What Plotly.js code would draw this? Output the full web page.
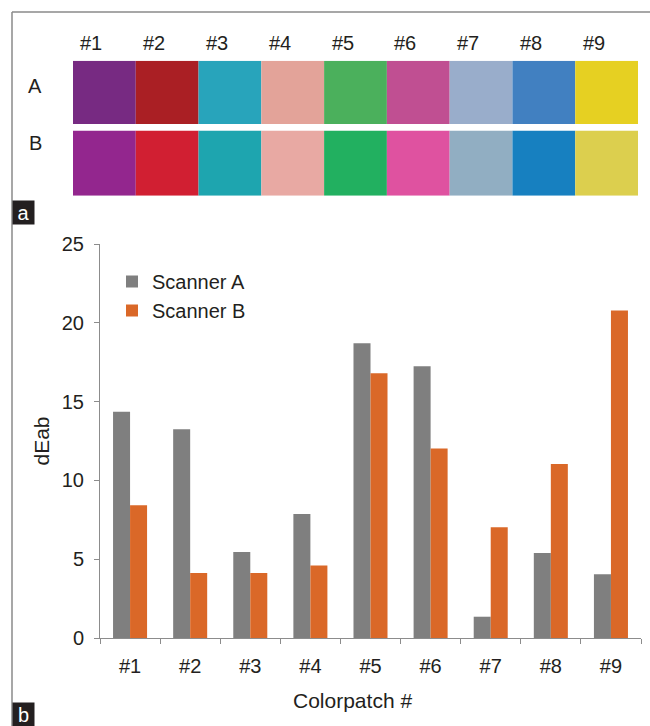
<!DOCTYPE html>
<html>
<head>
<meta charset="utf-8">
<script src="https://cdn.plot.ly/plotly-3.0.1.min.js"></script>
<style>html,body{margin:0;padding:0;background:#fff;}#chart{width:650px;height:726px;}</style>
</head>
<body>
<div id="chart"></div>
<script>
// ---- data ----
var patchLabels = ['#1','#2','#3','#4','#5','#6','#7','#8','#9'];
var patchIndex = [1,2,3,4,5,6,7,8,9];
var colorsA = ['#772A82','#AA1F24','#28A4BB','#E3A399','#4BB05C','#C04F92','#99ADCB','#4180C1','#E6D022'];
var colorsB = ['#93268E','#D11F32','#1EA5AF','#E8A9A3','#22B060','#DF52A0','#91AEC2','#1780C0','#DCCF4E'];
var rowLabels = ['A','B'];
var categories = ['#1','#2','#3','#4','#5','#6','#7','#8','#9'];
var scannerA = [14.35, 13.25, 5.45, 7.87, 18.7, 17.25, 1.35, 5.4, 4.05];
var scannerB = [8.42, 4.12, 4.12, 4.6, 16.8, 12.02, 7.03, 11.04, 20.78];
var seriesNames = ['Scanner A','Scanner B'];
var yTicks = [0,5,10,15,20,25];

// ---- layout helpers ----
var W = 650, H = 726;
function px(x){ return x / W; }
function py(y){ return 1 - y / H; }
var FONT = 'Liberation Sans, Arial, sans-serif';
var TXT = '#231f20';
var AXC = '#8c8c8c';

// patch rows geometry (axis units = pixels within patch area)
var rowB = {base: 0, h: 65};
var rowA = {base: 71.7, h: 63.3};
function fill(n, v){ var a=[]; for (var i=0;i<n;i++) a.push(v); return a; }
var n = patchIndex.length;

var traces = [
  {type:'bar', x: patchIndex.concat(patchIndex),
   y: fill(n, rowA.h).concat(fill(n, rowB.h)),
   base: fill(n, rowA.base).concat(fill(n, rowB.base)),
   width: 1, marker:{color: colorsA.concat(colorsB), line:{width:0}},
   xaxis:'x2', yaxis:'y2', showlegend:false, hoverinfo:'skip'},
  {type:'bar', name: seriesNames[0], x: categories, y: scannerA, marker:{color:'#7f7f7f', line:{width:0}}},
  {type:'bar', name: seriesNames[1], x: categories, y: scannerB, marker:{color:'#da6828', line:{width:0}}}
];

var annotations = [];
patchLabels.forEach(function(t, i){
  annotations.push({text: t, x: patchIndex[i], xref:'x2', xshift: -13, y: py(43), yref:'paper',
    xanchor:'center', yanchor:'middle', showarrow:false, font:{family:FONT, size:20, color:TXT}});
});
annotations.push({text: rowLabels[0], x: px(35), y: py(86), xref:'paper', yref:'paper', xanchor:'center', yanchor:'middle',
  showarrow:false, font:{family:FONT, size:20, color:TXT}});
annotations.push({text: rowLabels[1], x: px(35), y: py(143), xref:'paper', yref:'paper', xanchor:'center', yanchor:'middle',
  showarrow:false, font:{family:FONT, size:20, color:TXT}});
// panel tags
annotations.push({text:'a', x: px(12), y: py(200), xref:'paper', yref:'paper', xanchor:'left', yanchor:'top',
  showarrow:false, bgcolor:'#231f20', width:19, height:21, borderpad:1, font:{family:FONT, size:20, color:'#fff'}});
annotations.push({text:'b', x: px(12), y: py(702), xref:'paper', yref:'paper', xanchor:'left', yanchor:'top',
  showarrow:false, bgcolor:'#231f20', width:19, height:21, borderpad:1, font:{family:FONT, size:20, color:'#fff'}});
// x title
annotations.push({text:'Colorpatch #', x: px(352), y: py(700), xref:'paper', yref:'paper', xanchor:'center', yanchor:'middle',
  showarrow:false, font:{family:FONT, size:21, color:TXT}});

var layout = {
  width: W, height: H, autosize:false,
  margin:{l:0,r:0,t:0,b:0,pad:0},
  paper_bgcolor:'#fff', plot_bgcolor:'rgba(0,0,0,0)',
  font:{family:FONT, color:TXT},
  barmode:'group', bargap:0.434, bargroupgap:0,
  showlegend:true,
  legend:{x: px(112), y: py(262), xanchor:'left', yanchor:'top', bgcolor:'rgba(0,0,0,0)',
    font:{family:FONT, size:20, color:TXT}, tracegroupgap:0, traceorder:'normal'},
  xaxis:{domain:[px(100), px(641)], type:'category', automargin:false,
    showline:true, linecolor:AXC, linewidth:1, ticks:'outside', tickson:'boundaries', ticklen:5, tickcolor:AXC,
    tickfont:{family:FONT, size:20, color:TXT}, ticklabelstandoff:10, showgrid:false, zeroline:false, fixedrange:true},
  yaxis:{domain:[py(638), py(244)], range:[0,25], automargin:false, tickvals: yTicks,
    showline:true, linecolor:AXC, linewidth:1, ticks:'outside', ticklen:5, tickcolor:AXC,
    tickfont:{family:FONT, size:20, color:TXT}, ticklabelstandoff:6, showgrid:false, zeroline:false,
    title:{text:'dEab', font:{family:FONT, size:21, color:TXT}, standoff:6}, fixedrange:true},
  xaxis2:{domain:[px(73), px(638)], range:[0.5, 9.5], anchor:'y2', visible:false, fixedrange:true},
  yaxis2:{domain:[py(195.7), py(60.7)], range:[0, 135], anchor:'x2', visible:false, fixedrange:true},
  shapes:[
    {type:'line', xref:'paper', yref:'paper', x0:px(12), x1:1, y0:py(12), y1:py(12), line:{color:'#8a8a8a', width:1.5}},
    {type:'line', xref:'paper', yref:'paper', x0:px(12), x1:px(12), y0:py(12), y1:0, line:{color:'#8a8a8a', width:1.5}}
  ],
  annotations: annotations
};

Plotly.newPlot('chart', traces, layout, {displayModeBar:false, staticPlot:true});
</script>
</body>
</html>
